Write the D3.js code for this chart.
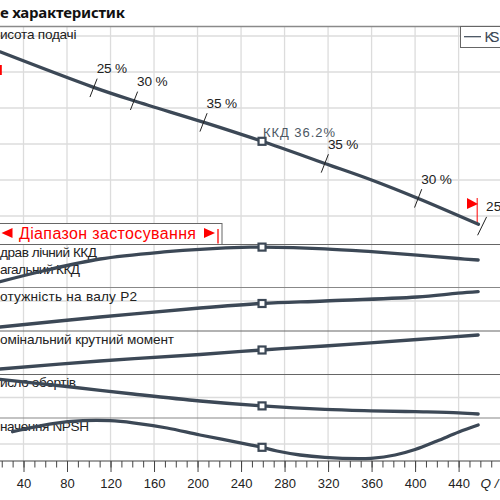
<!DOCTYPE html>
<html><head><meta charset="utf-8">
<script src="https://cdn.jsdelivr.net/npm/d3@7"></script>
<style>
html,body{margin:0;padding:0;background:#fff;overflow:hidden}
svg{display:block}
text{font-family:"Liberation Sans",Arial,sans-serif;fill:#222}
</style></head><body>
<svg id="c" width="500" height="500"></svg>
<script>
const qTicks = [40,80,120,160,200,240,280,320,360,400,440];
const qMinor = d3.range(0,500,10);
const headQ = [18.4,103.9,141.6,206,259.3,317,360,401.8,458.2];
const headH = [55.6,45.8,42,36,30.75,24.6,20,15,7.7];
const headGrid = [10,20,30,40,50,60];
const effMarkQ = [104.4,141.6,205.5,317,402.8,461.6];
const effMarkH = [45.6,42,36,24.6,14.9,7.2];
const effMarkLabel = ["25 %","30 %","35 %","35 %","30 %","25"];
const effQ = [18.4,57.9,110.3,172,202.3,248.3,259.3,317,360,401.8,439.5,458];
const effV = [5.8,16.5,28.5,35.8,38.2,40.3,40.4,38.7,35.8,32.4,29,27.5];
const powerQ = [18.4,110.3,202.3,259.3,317,401.8,439.5,458];
const powerV = [4,14,23,27.5,30,34,37.8,39.3];
const torqueQ = [18.4,110.3,202.3,259.3,317,401.8,458];
const torqueV = [5.5,13.5,20,24.5,28.5,35,39.5];
const speedQ = [18.4,80,140.7,202.3,259.3,317,359.5,400,440,458];
const speedV = [38.7,31.5,24,17,12.1,8.6,7.2,6.3,5.2,4];
const npshQ = [29.9,67,94.7,119.5,140.7,172,202.3,248.3,259.3,273,294.3,317,348,359.5,381.6,400,420.2,440.2,458];
const npshV = [29.3,37.4,40.3,40.3,38.2,33,26,16.2,13.7,10,6,3.6,2.3,2.7,6,11.5,20,29,36];
const dutyQ = 259.3;
const dutyV = {eff:40.4,power:27.5,torque:24.5,speed:12.1,npsh:13.7,head:30.75};
const panelLabels = ["исота подачі","драв лічний ККД","агальний ККД","отужність на валу  P2","омінальний крутний момент","исло обертів","начення NPSH"];
const panelLabelY = [39,257.3,274.3,301,343.7,387,430.7];
const panelLabelW = [76.5,97,80,137,174,76,89];

const svg = d3.select("#c");
const ink = "#3c4856", grid = "#dcdcdc", rule = "#666";
const x = d3.scaleLinear().domain([40,440]).range([23.5,458.6]);
const yHead = d3.scaleLinear().domain([0,10]).range([252,216]);
const bands = [[244.5,287.5],[287.5,331],[331,374.5],[374.5,418],[418,461]];
const yBand = bands.map(b=>d3.scaleLinear().domain([0,b[1]-b[0]]).range([b[1],b[0]]));
const bandGrid = [[],[30],[],[20.5],[17]];

// grid
svg.selectAll(".v").data(qTicks).join("line")
  .attr("x1",d=>x(d)).attr("x2",d=>x(d)).attr("y1",26.5).attr("y2",461)
  .attr("stroke",grid).attr("stroke-width",1.3);
svg.selectAll(".h").data(headGrid).join("line")
  .attr("x1",0).attr("x2",500).attr("y1",d=>yHead(d)).attr("y2",d=>yHead(d))
  .attr("stroke",grid).attr("stroke-width",1.3);
bandGrid.forEach((g,i)=>g.forEach(v=>{
  svg.append("line").attr("x1",0).attr("x2",500).attr("y1",yBand[i](v)).attr("y2",yBand[i](v))
    .attr("stroke",grid).attr("stroke-width",1.3);
}));
// panel rules
svg.append("line").attr("x1",0).attr("x2",500).attr("y1",26.5).attr("y2",26.5).attr("stroke","#8a8a8a").attr("stroke-width",1.5);
[244.5,287.5,331,374.5,418].forEach((y,i)=>svg.append("line").attr("x1",0).attr("x2",500).attr("y1",y).attr("y2",y)
  .attr("stroke",i%3===1?"#888":rule).attr("stroke-width",1.2));
svg.append("line").attr("x1",0).attr("x2",500).attr("y1",461).attr("y2",461).attr("stroke","#444").attr("stroke-width",1);

// axis
const axG = svg.append("g").attr("transform","translate(0,461)");
axG.call(d3.axisBottom(x).tickValues(qMinor.filter(d=>x(d)>=0&&x(d)<=500)).tickSize(6.5).tickFormat(""));
axG.select(".domain").remove();
axG.selectAll("line").attr("stroke","#444");
const axM = svg.append("g").attr("transform","translate(0,461)");
axM.call(d3.axisBottom(x).tickValues(qTicks).tickSize(11).tickPadding(4));
axM.select(".domain").remove();
axM.selectAll("line").attr("stroke","#444");
axM.selectAll("text").attr("font-size",13).attr("y",null).attr("dy",null).attr("transform","translate(0,27)").style("fill","#222");
svg.append("text").attr("x",480.5).attr("y",488).attr("font-size",13.5).attr("font-style","italic").text("Q /");

// title
svg.append("text").attr("x",0).attr("y",18.3).attr("font-size",15).attr("font-weight","bold")
  .style("font-family","'Noto Sans',sans-serif").attr("textLength",125).style("fill","#111").text("е характеристик");

// panel labels
panelLabels.forEach((t,i)=>svg.append("text").attr("x",0).attr("y",panelLabelY[i]).attr("font-size",13.6)
  .attr("textLength",panelLabelW[i]).text(t));

// legend
svg.append("rect").attr("x",460.5).attr("y",26.5).attr("width",60).attr("height",21).attr("fill","#fff").attr("stroke",rule).attr("stroke-width",1);
svg.append("line").attr("x1",464).attr("x2",481).attr("y1",36.7).attr("y2",36.7).attr("stroke",ink).attr("stroke-width",1.2);
svg.append("text").attr("x",484.5).attr("y",42).attr("font-size",14.5).attr("textLength",15).style("fill",ink).text("KS");

// range box
svg.append("rect").attr("x",-2).attr("y",223.5).attr("width",224).attr("height",21).attr("fill","#fff").attr("stroke",rule).attr("stroke-width",1);
svg.append("path").attr("d","M1.5,233L12.5,228V238Z").attr("fill","#f00");
svg.append("path").attr("d","M215,233L204,228V238Z").attr("fill","#f00");
svg.append("text").attr("x",19).attr("y",238.5).attr("font-size",16).attr("textLength",177).style("fill","#f00").text("Діапазон застосування");
svg.append("line").attr("x1",218).attr("x2",218).attr("y1",229).attr("y2",243.5).attr("stroke","#f00").attr("stroke-width",1.3);

// red flags
svg.append("rect").attr("x",0).attr("y",65).attr("width",1.8).attr("height",10).attr("fill","#f00");
svg.append("line").attr("x1",x(458)-1).attr("x2",x(458)-1).attr("y1",198).attr("y2",224).attr("stroke","#f00").attr("stroke-width",1);
svg.append("path").attr("d","M467,198L478,204L467,209Z").attr("fill","#f00");

// curves
const lineFor = (xs,ys,yS)=>d3.line().x(i=>x(xs[i])).y(i=>yS(ys[i])).curve(d3.curveCatmullRom.alpha(0.5))(d3.range(xs.length));
const curves = [[headQ,headH,yHead],[effQ,effV,yBand[0]],[powerQ,powerV,yBand[1]],[torqueQ,torqueV,yBand[2]],[speedQ,speedV,yBand[3]],[npshQ,npshV,yBand[4]]];
curves.forEach(c=>svg.append("path").attr("d",lineFor(c[0],c[1],c[2])).attr("fill","none").attr("stroke",ink).attr("stroke-width",3.3).attr("stroke-linecap","round"));

// efficiency ticks on head curve
effMarkQ.forEach((q,i)=>{
  const px=x(q),py=yHead(effMarkH[i]);
  const last=i===effMarkQ.length-1;
  const dx=last?4.5:3.6,dy=9.2;
  svg.append("line").attr("x1",px-dx).attr("x2",px+dx).attr("y1",py+dy).attr("y2",py-dy).attr("stroke","#222").attr("stroke-width",1);
  svg.append("text").attr("x",px+dx-0.5).attr("y",py-dy-5.5).attr("font-size",13.6).attr("textLength",last?null:30.5).text(effMarkLabel[i]);
});
svg.append("text").attr("x",263).attr("y",137).attr("font-size",13).attr("textLength",72).style("fill","#4c5763").text("ККД  36.2%");

// duty markers
[[yHead,dutyV.head],[yBand[0],dutyV.eff],[yBand[1],dutyV.power],[yBand[2],dutyV.torque],[yBand[3],dutyV.speed],[yBand[4],dutyV.npsh]].forEach(m=>{
  svg.append("rect").attr("x",x(dutyQ)-3.5).attr("y",m[0](m[1])-3.5).attr("width",7).attr("height",7)
    .attr("fill","#fff").attr("stroke",ink).attr("stroke-width",2.2);
});
</script></body></html>
